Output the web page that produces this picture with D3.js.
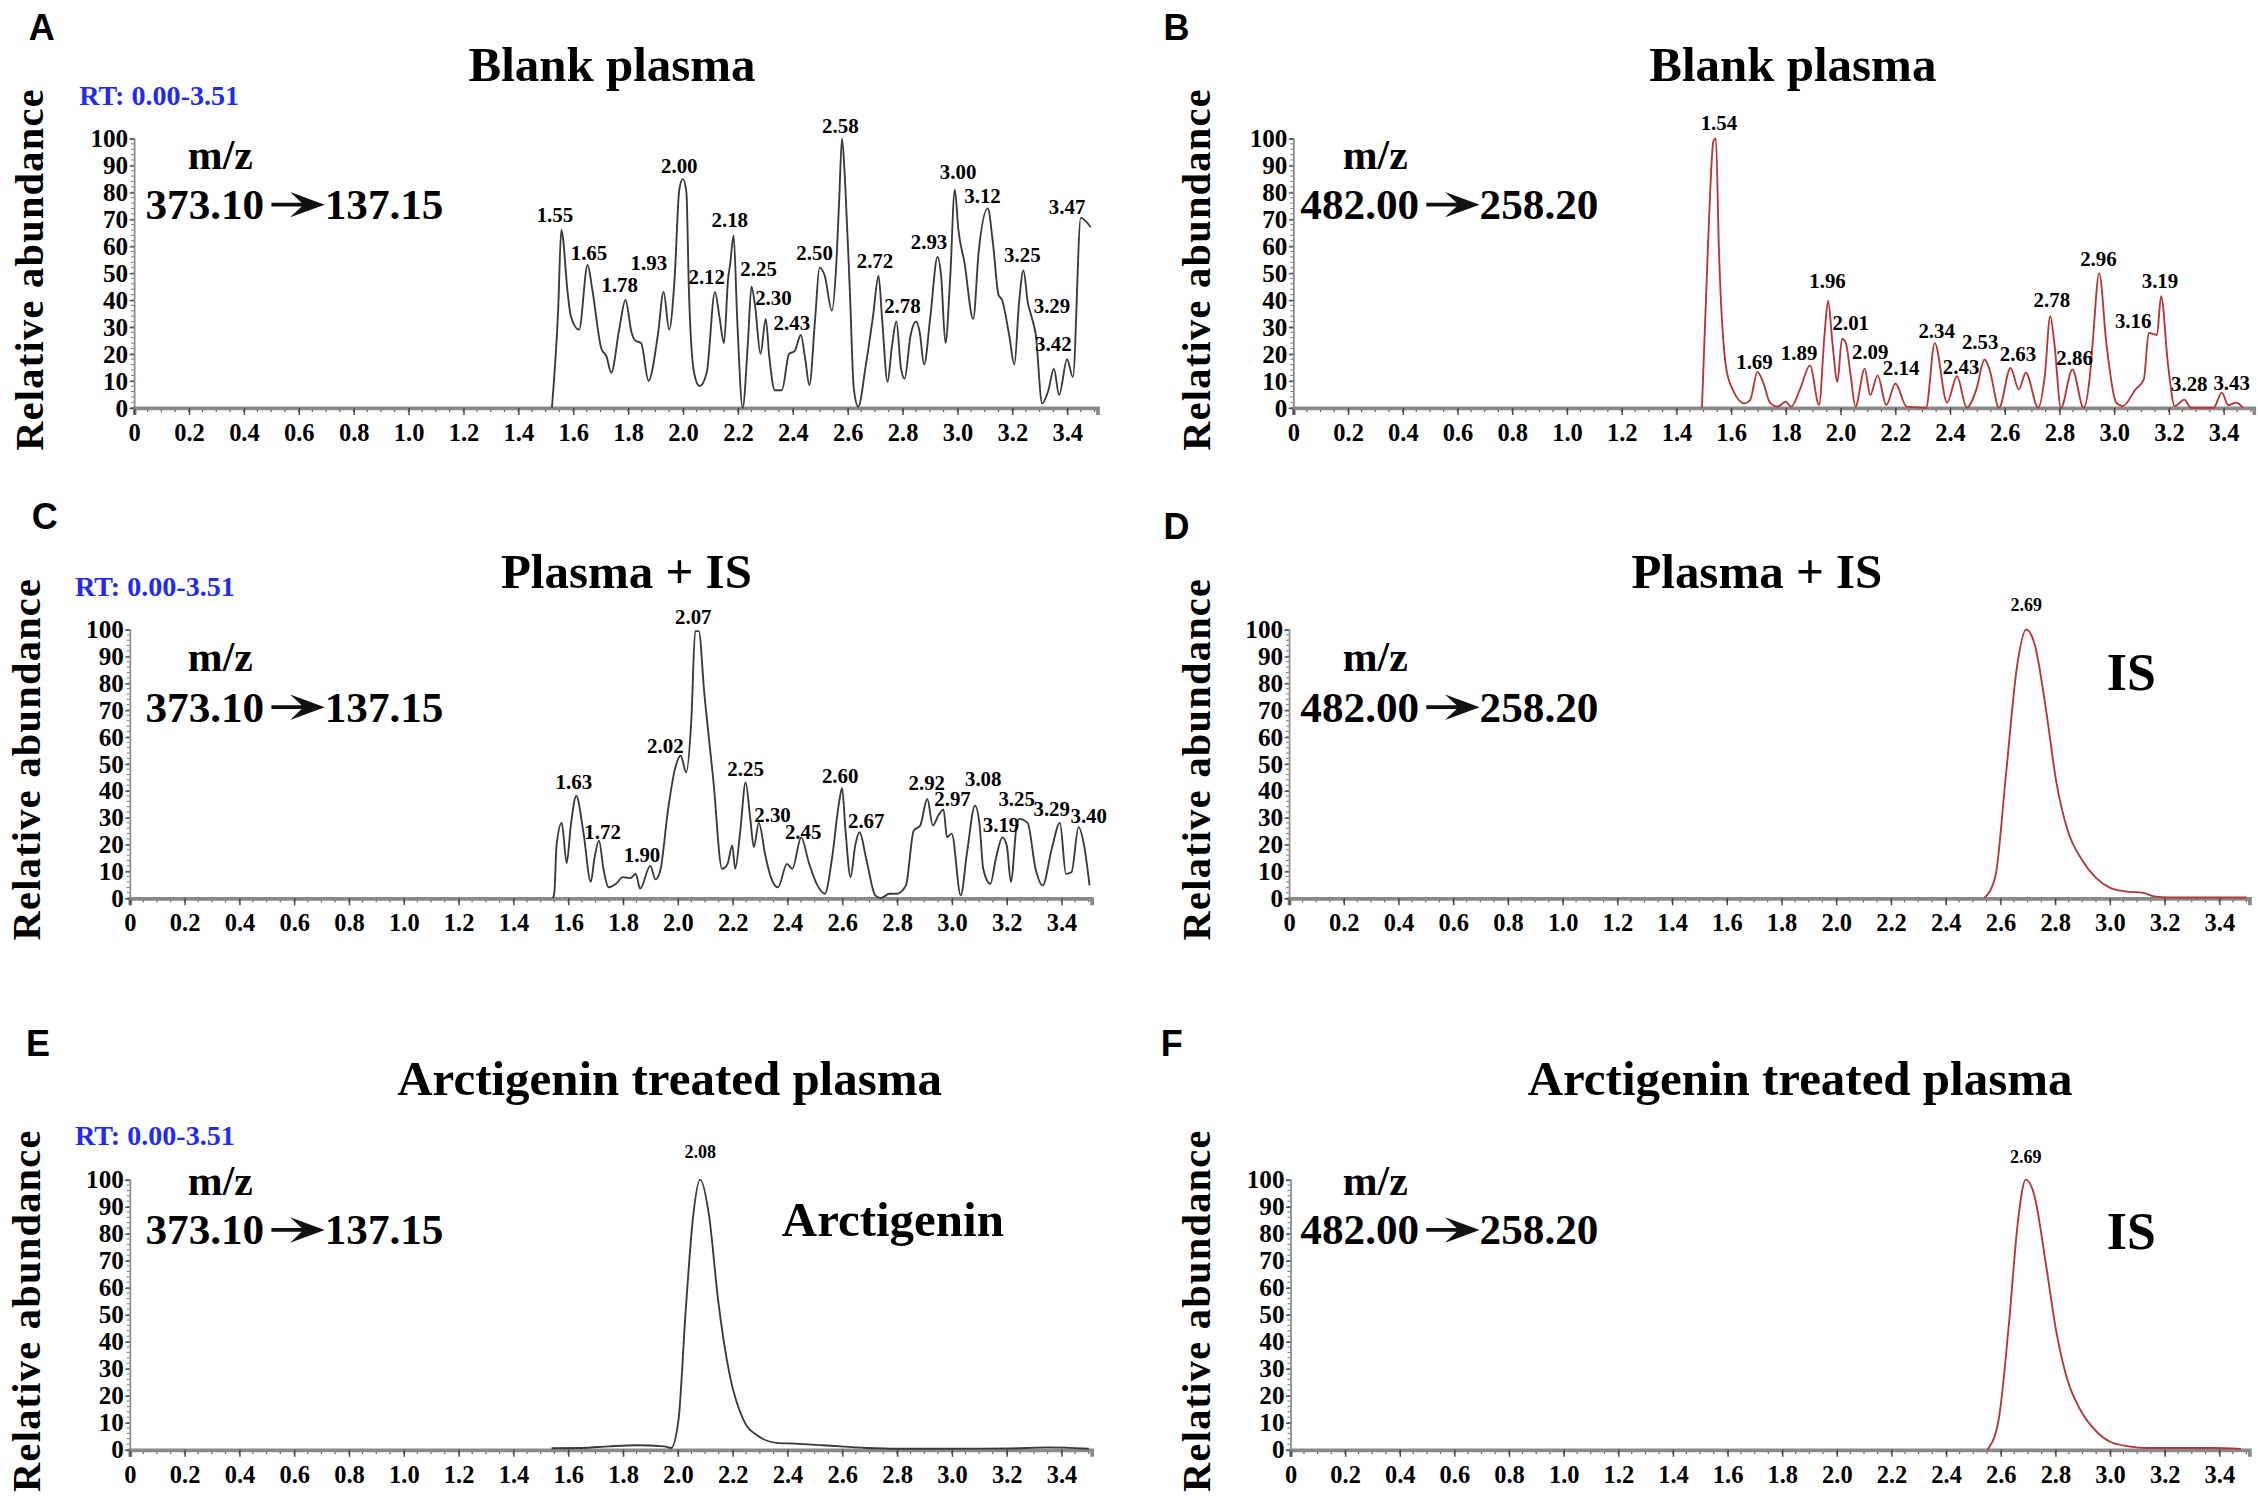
<!DOCTYPE html>
<html>
<head>
<meta charset="utf-8">
<script src="https://cdn.jsdelivr.net/npm/d3@7"></script>
<style>
  body { margin: 0; background: #fff; }
  svg { display: block; }
  text { font-family: "Liberation Serif", "Times New Roman", serif; font-weight: bold; }
</style>
</head>
<body>
<script>
// Data: [retention time (min), relative abundance (%)]
const xTickValues = [0, 0.2, 0.4, 0.6, 0.8, 1.0, 1.2, 1.4, 1.6, 1.8, 2.0, 2.2, 2.4, 2.6, 2.8, 3.0, 3.2, 3.4];
const xTickLabels = ['0', '0.2', '0.4', '0.6', '0.8', '1.0', '1.2', '1.4', '1.6', '1.8', '2.0', '2.2', '2.4', '2.6', '2.8', '3.0', '3.2', '3.4'];
const yTickValues = [0, 10, 20, 30, 40, 50, 60, 70, 80, 90, 100];
const rtRange = [0, 3.51];
const rtLabel = 'RT: 0.00-3.51';

const panelIds = ['A', 'B', 'C', 'D', 'E', 'F'];
const panelTitles = ['Blank plasma', 'Blank plasma', 'Plasma + IS', 'Plasma + IS',
                     'Arctigenin treated plasma', 'Arctigenin treated plasma'];
const transitions = [['373.10', '137.15'], ['482.00', '258.20'], ['373.10', '137.15'],
                     ['482.00', '258.20'], ['373.10', '137.15'], ['482.00', '258.20']];
const compoundNames = ['', '', '', 'IS', 'Arctigenin', 'IS'];

// A: blank plasma, arctigenin channel
const traceA = [
  [1.523,0],[1.546,37],[1.557,66],[1.562,64],[1.579,44],[1.592,34],[1.622,29],[1.653,53],
  [1.67,44],[1.703,22],[1.722,19],[1.739,13],[1.768,29],[1.791,40],[1.813,28],[1.826,25],
  [1.848,24],[1.875,10],[1.909,27],[1.93,43],[1.95,29],[1.97,48],[1.987,81],[2.0,85],
  [2.013,80],[2.022,44],[2.041,13],[2.061,8],[2.087,13],[2.117,43],[2.133,34],[2.15,24],
  [2.165,48],[2.172,53],[2.185,64],[2.198,33],[2.218,0],[2.237,24],[2.25,45],[2.263,38],
  [2.283,20],[2.302,33],[2.315,19],[2.335,6.5],[2.361,6.5],[2.387,20],[2.407,21],[2.43,27],
  [2.446,18],[2.461,8.4],[2.482,33],[2.498,52],[2.517,49],[2.543,36],[2.56,55],[2.57,78],
  [2.58,100],[2.592,82],[2.609,42],[2.623,7],[2.639,0.4],[2.667,16],[2.693,34],[2.713,49],
  [2.726,33],[2.746,9.6],[2.761,22],[2.778,32],[2.795,14.5],[2.808,10.8],[2.83,27],[2.85,32],
  [2.863,28],[2.879,16],[2.902,34],[2.928,56],[2.941,49],[2.957,24],[2.974,48],[2.991,81],
  [3.004,66],[3.026,54],[3.058,33],[3.078,58],[3.111,74],[3.13,61],[3.15,42],[3.163,40],
  [3.189,27],[3.208,16],[3.225,39],[3.241,51],[3.257,39],[3.27,34],[3.286,27],[3.309,1.6],
  [3.332,6.5],[3.352,14.5],[3.371,4.7],[3.4,18],[3.421,11.4],[3.45,70.5],[3.486,67]
];
const peaksA = [
  ['1.55',1.534,69],['1.65',1.658,55],['1.78',1.77,43],['1.93',1.876,51],['2.00',1.987,87],
  ['2.12',2.087,46],['2.18',2.171,67],['2.25',2.276,49],['2.30',2.33,38],['2.43',2.397,29],
  ['2.50',2.48,55],['2.58',2.574,102],['2.72',2.70,52],['2.78',2.80,35],['2.93',2.897,59],
  ['3.00',3.003,85],['3.12',3.092,76],['3.25',3.237,54],['3.29',3.345,35],['3.42',3.35,21],
  ['3.47',3.40,72]
];

// B: blank plasma, IS channel
const traceB = [
  [1.494,0],[1.516,60],[1.536,99],[1.545,100],[1.556,59],[1.583,14.5],[1.61,6],[1.65,1.6],
  [1.67,2.8],[1.697,13.3],[1.717,9.6],[1.744,1.6],[1.77,0.4],[1.80,2.2],[1.82,0.4],[1.853,7],
  [1.889,15.7],[1.922,1],[1.942,27],[1.955,39.7],[1.971,24],[1.989,9.6],[2.006,25.6],[2.02,24],
  [2.039,10.8],[2.055,0.4],[2.089,14.5],[2.109,4.7],[2.136,12],[2.168,1],[2.201,9],[2.242,0.4],
  [2.313,0],[2.345,24],[2.39,1.9],[2.426,11.7],[2.462,0],[2.497,6.8],[2.527,17.9],[2.545,14.2],
  [2.58,0],[2.622,14.8],[2.652,6.8],[2.678,13],[2.723,0],[2.747,11.7],[2.767,34],[2.782,24],
  [2.806,0],[2.848,14.2],[2.889,0],[2.913,13],[2.922,24],[2.946,50],[2.972,24],[3.008,1.9],
  [3.032,0.6],[3.079,6.8],[3.109,10.5],[3.127,27.8],[3.157,27],[3.172,41.4],[3.198,15.4],[3.222,0.6],
  [3.257,3],[3.281,0],[3.364,0],[3.394,5.6],[3.418,0.9],[3.447,1.9],[3.471,0]
];
const peaksB = [
  ['1.54',1.556,103],['1.69',1.686,14.5],['1.89',1.849,17.6],['1.96',1.953,44.6],['2.01',2.038,28.7],
  ['2.09',2.109,18.2],['2.14',2.222,12],['2.34',2.352,25.8],['2.43',2.441,12.6],['2.53',2.511,21.8],
  ['2.63',2.649,17.3],['2.78',2.773,37.4],['2.86',2.856,16],['2.96',2.943,52.5],['3.16',3.07,29.6],
  ['3.19',3.168,44.4],['3.28',3.275,6.2],['3.43',3.43,6.5]
];

// C: plasma + IS, arctigenin channel
const traceC = [
  [1.545,0],[1.55,2],[1.558,19.6],[1.577,28],[1.595,13],[1.61,27],[1.63,38],[1.656,24.5],
  [1.683,6],[1.696,14.6],[1.713,21.4],[1.729,10.9],[1.748,4],[1.775,5.3],[1.80,7.8],[1.827,7.4],
  [1.847,9],[1.863,3.5],[1.90,12],[1.919,7],[1.936,10],[1.965,33],[1.99,48],[2.011,53],
  [2.031,46.8],[2.05,66.6],[2.064,99.4],[2.077,99.4],[2.097,76.5],[2.13,44],[2.162,10.9],[2.182,12.7],
  [2.199,19.6],[2.21,10.9],[2.228,24.5],[2.248,43],[2.265,29.5],[2.278,19],[2.296,28],[2.32,15.8],
  [2.34,7.8],[2.366,4],[2.399,12.7],[2.418,10.9],[2.451,22.6],[2.478,13.4],[2.51,4.7],[2.537,1.6],
  [2.563,14.6],[2.589,35.6],[2.60,41],[2.612,25.7],[2.631,7.8],[2.648,19.6],[2.664,24.5],[2.688,14.6],
  [2.721,1],[2.74,0],[2.773,1.6],[2.80,1.6],[2.833,4.7],[2.861,25],[2.885,27],[2.911,36.9],
  [2.931,27],[2.951,30.7],[2.97,33],[2.983,22.6],[3.0,24],[3.033,1],[3.056,17],[3.085,34.4],
  [3.102,27],[3.115,10.9],[3.141,5.3],[3.161,14.6],[3.185,22.6],[3.201,19.6],[3.216,6],[3.237,27],
  [3.246,29.5],[3.277,28],[3.306,10.9],[3.332,4.7],[3.365,18.3],[3.395,28],[3.417,9],[3.437,9.6],
  [3.463,26.4],[3.483,19.6],[3.503,4.7]
];
const peaksC = [
  ['1.63',1.621,40.6],['1.72',1.726,22],['1.90',1.87,13.4],['2.02',1.955,54],['2.07',2.057,101.9],
  ['2.25',2.248,45.3],['2.30',2.346,28.5],['2.45',2.458,22],['2.60',2.593,42.8],['2.67',2.688,26],
  ['2.92',2.909,40.3],['2.97',3.003,34.4],['3.08',3.115,41.8],['3.19',3.18,24.5],['3.25',3.237,34.4],
  ['3.29',3.365,30.4],['3.40',3.50,28]
];

// D: plasma + IS, IS channel
const traceD = [
  [2.542,0],[2.582,8],[2.621,46],[2.661,86],[2.695,100],[2.727,94],[2.766,71],[2.806,42.6],
  [2.846,25.3],[2.899,14.2],[2.951,7.4],[3.004,3.7],[3.057,2.5],[3.123,1.9],[3.163,0.6],
  [3.215,0.2],[3.35,0.2],[3.5,0.2]
];
const peaksD = [['2.69',2.695,107]];

// E: arctigenin treated plasma, arctigenin channel
const traceE = [
  [1.54,0.5],[1.65,0.6],[1.75,1.2],[1.85,1.6],[1.95,1.2],[1.976,0.6],[2.003,11],[2.029,51],
  [2.056,86],[2.082,100],[2.114,87],[2.148,55],[2.188,28.6],[2.24,11],[2.294,5],[2.36,2.5],
  [2.426,2.2],[2.532,1.6],[2.69,0.6],[2.8,0.3],[3.0,0.3],[3.2,0.4],[3.35,0.8],[3.5,0.3]
];
const peaksE = [['2.08',2.082,108]];

// F: arctigenin treated plasma, IS channel
const traceF = [
  [2.552,0],[2.592,10.5],[2.631,47],[2.663,84],[2.692,100],[2.724,94],[2.764,70],[2.804,43.7],
  [2.843,26.4],[2.896,14],[2.95,6.8],[3.003,2.8],[3.069,1.2],[3.135,0.6],[3.268,0.6],[3.374,0.6],
  [3.48,0.2]
];
const peaksF = [['2.69',2.692,106]];

const traces = [traceA, traceB, traceC, traceD, traceE, traceF];
const peaks = [peaksA, peaksB, peaksC, peaksD, peaksE, peaksF];

// Layout (drawing units, viewBox 1568 x 1040)
const layout = [
  {x0: 93,  x34: 741,  y0: 283,   y100: 96,  letter: [20, 28],   title: [425, 56],  ylab: [20, 187],  rt: [55, 73],  mz: [153, 117], mzT: [101, 152], comp: null,        color: '#3a3a3a', peakFont: 14.5},
  {x0: 898, x34: 1544, y0: 283,   y100: 96,  letter: [808, 28],  title: [1245, 56], ylab: [830, 187], rt: null,      mz: [955, 117], mzT: [903, 152], comp: null,        color: '#b3373b', peakFont: 14.5},
  {x0: 90,  x34: 737,  y0: 623.5, y100: 437, letter: [22, 367],  title: [435, 408], ylab: [18, 527],  rt: [52, 414], mz: [153, 466], mzT: [101, 501], comp: null,        color: '#3a3a3a', peakFont: 14.5},
  {x0: 895, x34: 1541, y0: 623.5, y100: 437, letter: [808, 374], title: [1220, 408], ylab: [830, 527], rt: null,     mz: [955, 466], mzT: [903, 501], comp: [1480, 479], color: '#b3373b', peakFont: 12.5},
  {x0: 90,  x34: 737,  y0: 1006.5, y100: 819, letter: [18, 733], title: [465, 760], ylab: [18, 910],  rt: [52, 795], mz: [153, 830], mzT: [101, 864], comp: [620, 858],  color: '#3a3a3a', peakFont: 12.5},
  {x0: 896, x34: 1541, y0: 1006.5, y100: 819, letter: [806, 733], title: [1250, 760], ylab: [830, 910], rt: null,    mz: [955, 830], mzT: [903, 864], comp: [1480, 867], color: '#b3373b', peakFont: 12.5}
];

var width = 2258,
    height = 1498;

var svg = d3.select('body').append('svg')
    .attr('width', width)
    .attr('height', height)
    .attr('viewBox', '0 0 1568 1040');

svg.append('rect').attr('width', 1568).attr('height', 1040).attr('fill', '#fff');

// notched arrow used between precursor and product ion
const arrowPath = 'M0,-1.3 L21,-1.3 L13,-8.8 L37,0 L13,8.8 L21,1.3 L0,1.3 Z';

panelIds.forEach(function(id, i) {
  const L = layout[i];
  const g = svg.append('g').attr('class', 'panel-' + id);

  const pxPerMin = (L.x34 - L.x0) / 3.4;
  const x = d3.scaleLinear().domain(rtRange).range([L.x0, L.x0 + rtRange[1] * pxPerMin]);
  const y = d3.scaleLinear().domain([0, 100]).range([L.y0, L.y100]);

  // panel letter
  g.append('text')
      .attr('x', L.letter[0]).attr('y', L.letter[1])
      .style('font-family', '"Liberation Sans", Arial, sans-serif')
      .style('font-size', '25px')
      .text(id);

  // title
  g.append('text')
      .attr('x', L.title[0]).attr('y', L.title[1])
      .attr('text-anchor', 'middle')
      .style('font-size', '34px')
      .text(panelTitles[i]);

  // y label
  g.append('text')
      .attr('transform', 'translate(' + (L.ylab[0] + 10) + ',' + L.ylab[1] + ') rotate(-90)')
      .attr('text-anchor', 'middle')
      .style('font-size', '28px')
      .style('letter-spacing', '0.9px')
      .text('Relative abundance');

  if (L.rt) {
    g.append('text')
        .attr('x', L.rt[0]).attr('y', L.rt[1])
        .attr('fill', '#1f2cf0')
        .style('font-size', '19.5px')
        .text(rtLabel);
  }

  // minor ticks
  const xMinor = d3.range(0, 3.51, 0.05);
  g.append('g').selectAll('line')
      .data(xMinor)
      .enter()
      .append('line')
      .attr('x1', function(d) { return x(d); })
      .attr('x2', function(d) { return x(d); })
      .attr('y1', L.y0)
      .attr('y2', L.y0 + 3)
      .attr('stroke', '#555')
      .attr('stroke-width', 0.8);

  const yMinor = d3.range(0, 101, 2);
  g.append('g').selectAll('line')
      .data(yMinor)
      .enter()
      .append('line')
      .attr('x1', L.x0 - 2)
      .attr('x2', L.x0)
      .attr('y1', function(d) { return y(d); })
      .attr('y2', function(d) { return y(d); })
      .attr('stroke', '#777')
      .attr('stroke-width', 0.7);

  // axes
  const xAxis = g.append('g')
      .attr('transform', 'translate(0,' + L.y0 + ')')
      .call(d3.axisBottom(x)
        .tickValues(xTickValues)
        .tickFormat(function(d, k) { return xTickLabels[k]; })
        .tickSize(5)
        .tickPadding(6));
  xAxis.select('.domain').attr('stroke', '#8a8a8a').attr('stroke-width', 2.6);
  xAxis.selectAll('.tick line').attr('stroke', '#444');
  xAxis.selectAll('text')
      .attr('fill', '#000')
      .style('font-family', '"Liberation Serif", "Times New Roman", serif')
      .style('font-weight', 'bold')
      .style('font-size', '17px');

  const yAxis = g.append('g')
      .attr('transform', 'translate(' + L.x0 + ',0)')
      .call(d3.axisLeft(y)
        .tickValues(yTickValues)
        .tickSize(3)
        .tickPadding(1));
  yAxis.select('.domain').attr('stroke', '#8a8a8a').attr('stroke-width', 1.2);
  yAxis.selectAll('.tick line').attr('stroke', '#555');
  yAxis.selectAll('text')
      .attr('fill', '#000')
      .style('font-family', '"Liberation Serif", "Times New Roman", serif')
      .style('font-weight', 'bold')
      .style('font-size', '17.5px');

  // m/z text
  g.append('text')
      .attr('x', L.mz[0]).attr('y', L.mz[1])
      .attr('text-anchor', 'middle')
      .style('font-size', '29px')
      .text('m/z');

  const pre = g.append('text')
      .attr('x', L.mzT[0]).attr('y', L.mzT[1])
      .style('font-size', '30px')
      .text(transitions[i][0]);
  const preW = pre.node().getComputedTextLength();
  const ax = L.mzT[0] + preW + 5;
  g.append('path')
      .attr('d', arrowPath)
      .attr('transform', 'translate(' + ax + ',' + (L.mzT[1] - 10) + ')')
      .attr('fill', '#111');
  g.append('text')
      .attr('x', ax + 37).attr('y', L.mzT[1])
      .style('font-size', '30px')
      .text(transitions[i][1]);

  // trace
  const line = d3.line()
      .x(function(d) { return x(d[0]); })
      .y(function(d) { return y(d[1]); })
      .curve(d3.curveMonotoneX);

  g.append('path')
      .datum(traces[i])
      .attr('d', line)
      .attr('fill', 'none')
      .attr('stroke', L.color)
      .attr('stroke-width', 1.3)
      .attr('stroke-linejoin', 'round');

  // peak labels
  g.append('g').selectAll('text')
      .data(peaks[i])
      .enter()
      .append('text')
      .attr('x', function(d) { return x(d[1]); })
      .attr('y', function(d) { return y(d[2]); })
      .attr('text-anchor', 'middle')
      .style('font-size', L.peakFont + 'px')
      .text(function(d) { return d[0]; });

  if (L.comp) {
    g.append('text')
        .attr('x', L.comp[0]).attr('y', L.comp[1])
        .attr('text-anchor', 'middle')
        .style('font-size', compoundNames[i] === 'IS' ? '36px' : '34px')
        .text(compoundNames[i]);
  }
});
</script>
</body>
</html>
